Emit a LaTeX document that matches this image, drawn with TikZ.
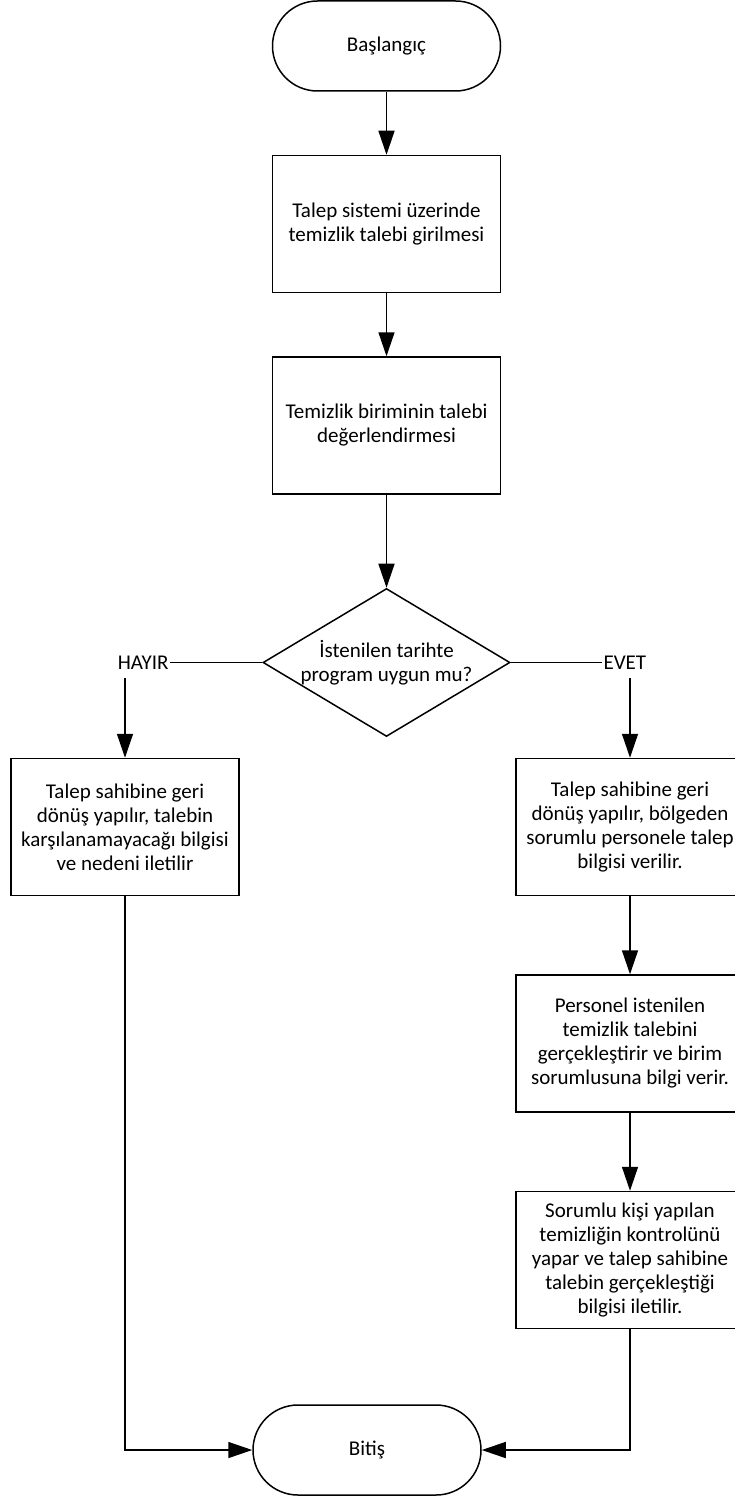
\documentclass[tikz,border=0pt]{standalone}
\usepackage{fontspec}
\setmainfont{Carlito}
\usetikzlibrary{positioning,shapes.geometric,arrows.meta}

\begin{document}
\begin{tikzpicture}[x=1pt,y=-1pt,line width=1.5pt,
   font=\fontsize{21pt}{24pt}\selectfont,
   term/.style={draw,rectangle,rounded corners=45pt,minimum width=228pt,minimum height=90pt},
   proc/.style={draw,rectangle,align=center,minimum width=228pt,minimum height=137pt,inner sep=4pt},
   decision/.style={draw,diamond,aspect=1.67,align=center,minimum width=247pt,minimum height=148pt,inner sep=0pt},
   answer/.style={inner xsep=1pt,inner ysep=8pt},
   flow/.style={-{Triangle[length=24pt,width=16pt]}}]
   \useasboundingbox (0,0) rectangle (735,1498);
   \node[term] (start) at (386.5,46) {Başlangıç};
   \node[proc] (entry) [below=63pt of start] {Talep sistemi üzerinde\\temizlik talebi girilmesi};
   \node[proc] (review) [below=63pt of entry] {Temizlik biriminin talebi\\değerlendirmesi};
   \node[decision] (check) [below=93pt of review] {İstenilen tarihte\\program uygun mu?};
   \node[answer] (no) [left=92pt of check.west] {HAYIR};
   \node[answer] (yes) [right=91pt of check.east] {EVET};
   \node[proc] (reject) at (125,827) {Talep sahibine geri\\dönüş yapılır, talebin\\karşılanamayacağı bilgisi\\ve nedeni iletilir};
   \node[proc] (inform) at (630,827) {Talep sahibine geri\\dönüş yapılır, bölgeden\\sorumlu personele talep\\bilgisi verilir.};
   \node[proc] (clean) [below=78pt of inform] {Personel istenilen\\temizlik talebini\\gerçekleştirir ve birim\\sorumlusuna bilgi verir.};
   \node[proc] (control) [below=78pt of clean] {Sorumlu kişi yapılan\\temizliğin kontrolünü\\yapar ve talep sahibine\\talebin gerçekleştiği\\bilgisi iletilir.};
   \node[term] (finish) at (367,1450) {Bitiş};
   \draw[flow] (start) -- (entry);
   \draw[flow] (entry) -- (review);
   \draw[flow] (review) -- (check);
   \draw (check.west) -- (no.east);
   \draw (check.east) -- (yes.west);
   \draw[flow] (no.south -| reject) -- (reject);
   \draw[flow] (yes.south -| inform) -- (inform);
   \draw[flow] (inform) -- (clean);
   \draw[flow] (clean) -- (control);
   \draw[flow] (reject) |- (finish);
   \draw[flow] (control) |- (finish);
\end{tikzpicture}
\end{document}
